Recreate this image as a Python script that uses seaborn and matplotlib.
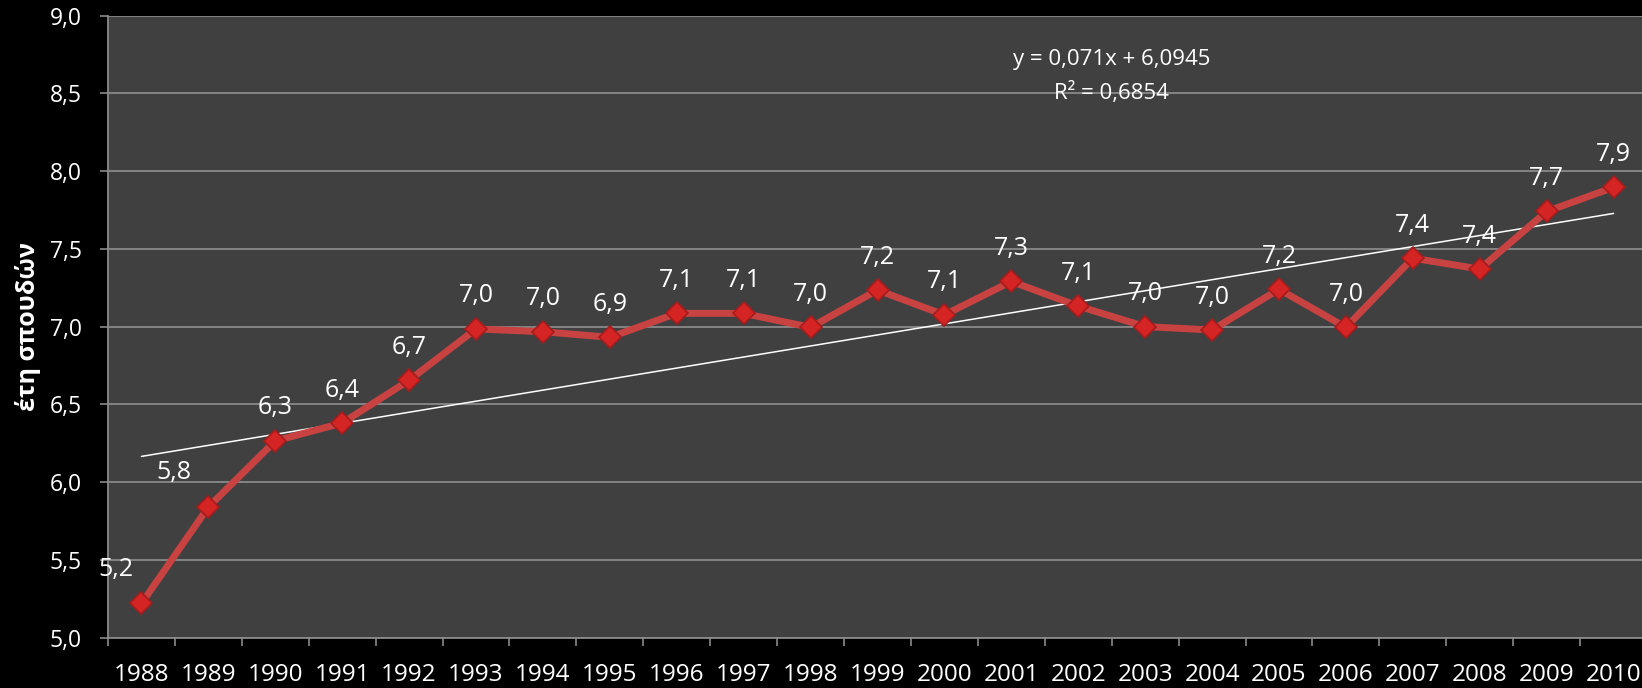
import numpy as np
import matplotlib
matplotlib.use("Agg")
import matplotlib.pyplot as plt
from matplotlib.ticker import FuncFormatter
import seaborn as sns

# data
years = list(range(1988, 2011))
values = [5.22, 5.84, 6.265, 6.38, 6.655, 6.985, 6.967, 6.931, 7.085, 7.085,
          6.995, 7.235, 7.075, 7.29, 7.132, 7.0, 6.978, 7.24, 6.995, 7.44,
          7.37, 7.74, 7.895]
trend_slope = 0.071
trend_intercept = 6.0945
trend_r2 = 0.6854
y_label = "έτη σπουδών"

# label offsets in pixels (most sit straight above the point)
label_dx = {1988: -26, 1989: -34}
label_dy = {1988: 34, 1989: 35}


def comma(v, digits=1):
    return "{:.{}f}".format(v, digits).replace(".", ",")


sns.set_theme(style="dark")
plt.rcParams["font.family"] = ["Open Sans", "DejaVu Sans"]

fig = plt.figure(figsize=(16.42, 6.88), dpi=100, facecolor="black")
ax = fig.add_axes([108 / 1642, 50.3 / 688, 1539 / 1642, 622.2 / 688])
ax.set_facecolor("#404040")

# trendline from the fitted equation (x = 1..n)
trend = [trend_slope * (i + 1) + trend_intercept for i in range(len(years))]
sns.lineplot(x=years, y=trend, ax=ax, color="white", linewidth=1.1, zorder=3)

sns.lineplot(x=years, y=values, ax=ax, color="#c94242", linewidth=5,
             marker="D", markersize=11, markerfacecolor="#d42424",
             markeredgecolor="#a51c1c", markeredgewidth=1.2, zorder=4)

for yr, v in zip(years, values):
    ax.annotate(comma(v), (yr, v),
                xytext=(label_dx.get(yr, 0), label_dy.get(yr, 33)),
                textcoords="offset pixels", ha="center", va="center",
                color="white", fontsize=18, zorder=5)

ax.text(0.652, 0.9285, "y = {}x + {}".format(comma(trend_slope, 3), comma(trend_intercept, 4)),
        transform=ax.transAxes, ha="center", va="center", color="white", fontsize=16)
ax.text(0.652, 0.8755, "R² = {}".format(comma(trend_r2, 4)),
        transform=ax.transAxes, ha="center", va="center", color="white", fontsize=16)

ax.set_xlim(years[0] - 0.5, years[-1] + 0.5)
ax.set_ylim(5.0, 9.0)
ax.set_yticks(np.arange(5.0, 9.01, 0.5))
ax.yaxis.set_major_formatter(FuncFormatter(lambda v, p: comma(v)))
ax.set_xticks(years)
ax.set_xticklabels([str(y) for y in years])
ax.set_xticks(np.arange(years[0] - 0.5, years[-1] + 1), minor=True)

ax.grid(axis="y", color="#8a8a8a", linewidth=1.3)
ax.grid(axis="x", visible=False)

ax.tick_params(axis="x", which="major", length=0, pad=18, labelsize=17.5, labelcolor="white")
ax.tick_params(axis="x", which="minor", length=6, width=1.2, color="#8a8a8a", bottom=True)
ax.tick_params(axis="y", which="major", length=6, width=1.2, color="#8a8a8a", left=True,
               pad=13, labelsize=16.5, labelcolor="white")

for side in ["top", "right"]:
    ax.spines[side].set_visible(False)
for side in ["left", "bottom"]:
    ax.spines[side].set_color("#8a8a8a")
    ax.spines[side].set_linewidth(1.3)

ax.set_xlabel("")
ax.set_ylabel(y_label, color="white", fontsize=18, fontweight="bold")
ax.yaxis.set_label_coords(-0.052, 0.5)
ax.yaxis.label.set_verticalalignment("center")

fig.savefig("out.png", dpi=100, facecolor="black")
